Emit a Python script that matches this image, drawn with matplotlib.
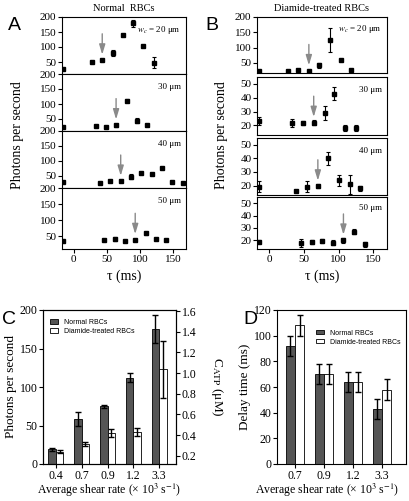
import numpy as np
import matplotlib.pyplot as plt

plt.rcParams['font.family'] = ['Liberation Serif', 'DejaVu Serif']
plt.rcParams['mathtext.fontset'] = 'stix'

# panel A: normal RBCs, photons per second vs delay tau, one row per channel width
A_tau = [[-16, 27, 43, 59, 74, 90, 105, 121],
         [-16, 34, 49, 64, 80, 96, 111],
         [-16, 40, 55, 71, 87, 102, 118, 133, 149, 165],
         [-16, 46, 63, 78, 93, 109, 124, 140]]
A_val = [[27, 50, 56, 81, 140, 179, 104, 48],
         [24, 26, 22, 30, 111, 44, 30],
         [31, 28, 34, 32, 47, 61, 55, 75, 31, 28],
         [36, 37, 41, 36, 39, 59, 42, 37]]
A_err = [[0, 0, 0, 10, 0, 12, 0, 18],
         [0, 0, 0, 5, 5, 8, 0],
         [0, 0, 3, 3, 8, 0, 0, 0, 0, 0],
         [0, 0, 6, 0, 0, 5, 0, 0]]
A_arrow = [43, 64, 71, 93]

# panel B: diamide-treated RBCs
B_tau = [[-15, 27, 42, 57, 72, 88, 103, 118],
         [-15, 33, 49, 64, 80, 94, 109, 125],
         [-15, 39, 54, 70, 85, 100, 116, 131],
         [-15, 45, 61, 76, 92, 107, 122, 138]]
B_val = [[22, 25, 26, 24, 42, 125, 58, 27],
         [23, 21.5, 22, 22, 29, 43, 18, 18],
         [19, 16, 19, 19.5, 40, 24, 21, 18],
         [19, 18, 18.5, 19.5, 18, 20, 27, 17]]
B_err = [[0, 3, 3, 0, 9, 38, 0, 0],
         [3, 3, 1.5, 2, 5, 5, 2, 2],
         [4, 1, 4, 1.5, 5, 4, 7, 2],
         [1, 3, 1.5, 1.5, 2, 2, 2, 2]]
B_arrow = [57, 64, 70, 107]

width_labels = [r'$w_c$ = 20 μm', '30 μm', '40 μm', '50 μm']

# panel C: photons per second vs shear rate
C_labels = ['0.4', '0.7', '0.9', '1.2', '3.3']
C_normal = [19, 59, 75, 112, 175]
C_normal_err = [2, 9, 2, 6, 18]
C_diamide = [16, 26, 40, 42, 123]
C_diamide_err = [2, 2, 5, 5, 37]

# panel D: delay time vs shear rate
D_labels = ['0.7', '0.9', '1.2', '3.3']
D_normal = [92, 70, 64, 43]
D_normal_err = [8, 8, 8, 8]
D_diamide = [108, 70, 64, 58]
D_diamide_err = [8, 8, 8, 8]

W, H = 410, 501
fig = plt.figure(figsize=(W / 100, H / 100), dpi=100)


def ax_px(l, t, r, b):
    return fig.add_axes([l / W, 1 - b / H, (r - l) / W, (b - t) / H])


def style(ax, fs=8):
    ax.tick_params(direction='out', length=3, width=0.8, labelsize=fs, pad=1)
    for s in ax.spines.values():
        s.set_linewidth(0.8)


def stack(left, right, rows, taus, vals, errs, arrows, ylims, yticks, title):
    axes = []
    for i, (t, b) in enumerate(rows):
        ax = ax_px(left, t, right, b)
        ax.errorbar(taus[i], vals[i], yerr=errs[i], fmt='s', color='black',
                    ms=2.2, elinewidth=0.8, capsize=1.5, capthick=0.8)
        k = taus[i].index(arrows[i])
        ax.annotate('', xy=(arrows[i], vals[i][k]), xytext=(0, 19),
                    textcoords='offset points',
                    arrowprops=dict(arrowstyle='-|>,head_length=0.6,head_width=0.18',
                                    color='#8a8a8a', lw=1.0, shrinkA=0, shrinkB=4))
        ax.set_xlim(-18, 170)
        ax.set_ylim(*ylims[i])
        ax.set_yticks(yticks[i])
        ax.text(0.96, 0.78, width_labels[i], transform=ax.transAxes,
                ha='right', va='center', fontsize=6.5)
        style(ax)
        if i < len(rows) - 1:
            ax.set_xticks([])
        else:
            ax.set_xticks([0, 50, 100, 150])
            ax.set_xlabel('τ (ms)', fontsize=10, labelpad=4)
        axes.append(ax)
    axes[0].set_title(title, fontsize=7.5, pad=4)
    return axes


rowsA = [(17, 74), (74, 131), (131, 188), (188, 249)]
axA = stack(62, 186, rowsA, A_tau, A_val, A_err, A_arrow,
            [(10, 200)] * 4, [[50, 100, 150, 200]] * 4, 'Normal  RBCs')
fig.text(18 / W, 1 - 135 / H, 'Photons per second', rotation=90,
         ha='center', va='center', fontsize=10)

rowsB = [(17, 73), (77, 135), (138, 195), (197, 249)]
axB = stack(257, 387, rowsB, B_tau, B_val, B_err, B_arrow,
            [(17, 200)] + [(13, 55)] * 3,
            [[50, 100, 150, 200]] + [[20, 30, 40, 50]] * 3,
            'Diamide-treated RBCs')
fig.text(222 / W, 1 - 135 / H, 'Photons per second', rotation=90,
         ha='center', va='center', fontsize=10)

for letter, x, y in [('A', 8, 25), ('B', 205, 25), ('C', 2, 320), ('D', 243, 320)]:
    fig.text(x / W, 1 - y / H, letter, fontsize=14, family='Liberation Sans',
             ha='left', va='center')

bw_c = 0.29
c_top, c_bot = 310, 464
axC = ax_px(43, c_top, 176, c_bot)
xc = np.arange(len(C_labels))
ebk = dict(elinewidth=1.0, capsize=2, capthick=1.0, ecolor='black')
axC.bar(xc - bw_c / 2, C_normal, bw_c, yerr=C_normal_err, color='#555555',
        edgecolor='black', linewidth=0.6, error_kw=ebk, label='Normal RBCs')
axC.bar(xc + bw_c / 2, C_diamide, bw_c, yerr=C_diamide_err, color='white',
        edgecolor='black', linewidth=0.6, error_kw=ebk, label='Diamide-treated RBCs')
axC.set_xlim(-0.5, 4.65)
axC.set_ylim(0, 200)
axC.set_yticks([0, 50, 100, 150, 200])
axC.set_xticks(xc)
axC.set_xticklabels(C_labels)
style(axC, 8.5)
axC.set_ylabel('Photons per second', fontsize=9.5, labelpad=2)
axC.set_xlabel('Average shear rate (× 10$^3$ s$^{-1}$)', fontsize=8.5)
axC.xaxis.set_label_coords(0.5, -(482 - c_bot) / (c_bot - c_top))
axC.legend(loc='upper left', bbox_to_anchor=(0.02, 0.97), frameon=False,
           prop={'family': 'Liberation Sans', 'size': 5}, handlelength=1.2,
           handleheight=0.6, labelspacing=0.3, borderaxespad=0.2)
axC2 = axC.twinx()
axC2.set_ylim(0.121, 1.61)
axC2.set_yticks([0.2, 0.4, 0.6, 0.8, 1.0, 1.2, 1.4, 1.6])
axC2.set_yticklabels(['0.2', '0.4', '0.6', '0.8', '1.0', '1.2', '1.4', '1.6'])
style(axC2, 8.5)
axC2.set_ylabel(r'C$_{\rm ATP}$ (μM)', fontsize=9.5, rotation=270, va='center')
axC2.yaxis.set_label_coords(1.31, 0.5)

bw_d = 0.32
d_top, d_bot = 310, 464
axD = ax_px(277, d_top, 406, d_bot)
xd = np.arange(len(D_labels))
axD.bar(xd - bw_d / 2, D_normal, bw_d, yerr=D_normal_err, color='#555555',
        edgecolor='black', linewidth=0.6, error_kw=ebk, label='Normal RBCs')
axD.bar(xd + bw_d / 2, D_diamide, bw_d, yerr=D_diamide_err, color='white',
        edgecolor='black', linewidth=0.6, error_kw=ebk, label='Diamide-treated RBCs')
axD.set_xlim(-0.62, 3.83)
axD.set_ylim(0, 120)
axD.set_yticks(np.arange(0, 121, 20))
axD.set_xticks(xd)
axD.set_xticklabels(D_labels)
style(axD, 8.5)
axD.set_ylabel('Delay time (ms)', fontsize=9.5, labelpad=2)
axD.set_xlabel('Average shear rate (× 10$^3$ s$^{-1}$)', fontsize=8.5)
axD.xaxis.set_label_coords(0.39, -(482 - d_bot) / (d_bot - d_top))
axD.legend(loc='upper right', bbox_to_anchor=(0.99, 0.9), frameon=False,
           prop={'family': 'Liberation Sans', 'size': 5}, handlelength=1.2,
           handleheight=0.6, labelspacing=0.3, borderaxespad=0.2)

fig.savefig('out.png', dpi=100)
